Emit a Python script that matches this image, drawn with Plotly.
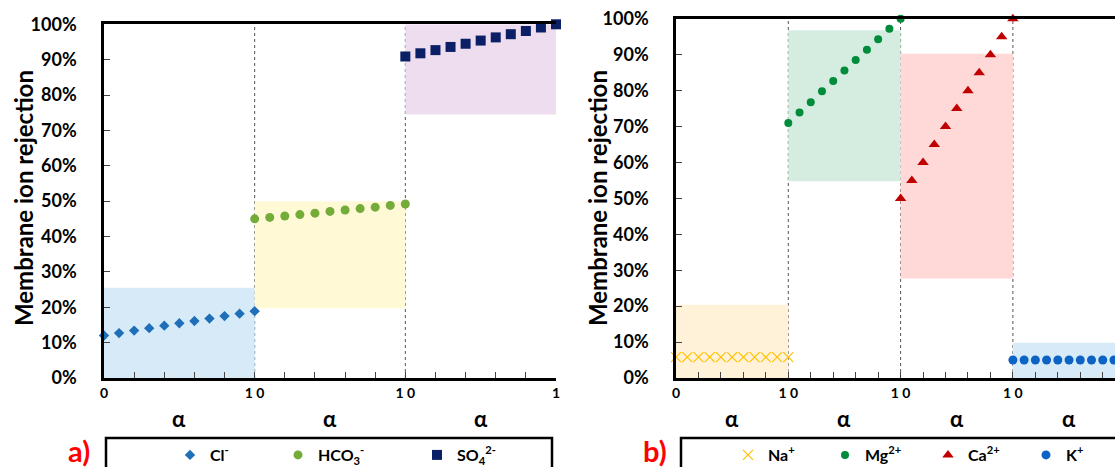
import plotly.graph_objects as go

W, H = 1115, 467

# ---------------- data ----------------
ALPHA = [0.0, 0.1, 0.2, 0.3, 0.4, 0.5, 0.6, 0.7, 0.8, 0.9, 1.0]

CL = [12.0, 12.7, 13.4, 14.1, 14.8, 15.5, 16.1, 16.8, 17.5, 18.2, 18.9]
HCO3 = [45.0, 45.4, 45.8, 46.2, 46.6, 47.1, 47.5, 47.9, 48.3, 48.8, 49.2]
SO4 = [90.9, 91.8, 92.7, 93.6, 94.5, 95.4, 96.3, 97.2, 98.1, 99.1, 100.0]

NA = [5.8, 5.8, 5.8, 5.8, 5.8, 5.8, 5.8, 5.8, 5.8, 5.8, 5.8]
MG = [71.0, 73.9, 76.8, 79.8, 82.7, 85.6, 88.5, 91.4, 94.3, 97.2, 100.0]
CA = [50.0, 55.0, 60.0, 65.0, 70.0, 75.0, 80.0, 85.0, 90.0, 95.0, 100.0]
K = [5.0, 5.0, 5.0, 5.0, 5.0, 5.0, 5.0, 5.0, 5.0, 5.0, 5.0]

# shaded bands (low, high) per ion
BAND_A = [(0.0, 25.5), (19.7, 50.0), (74.5, 100.0)]
BAND_B = [(0.0, 20.4), (54.8, 96.8), (27.7, 90.3), (0.0, 9.8)]

TICK_Y = [0, 10, 20, 30, 40, 50, 60, 70, 80, 90, 100]
TICK_Y_TEXT = ["0%", "10%", "20%", "30%", "40%", "50%", "60%", "70%", "80%", "90%", "100%"]
TICKTEXT_A = ["0", "1\u00a00", "1\u00a00", "1"]
TICKTEXT_B = ["0", "1\u00a00", "1\u00a00", "1\u00a00"]

NAMES_A = ["Cl<sup>-</sup>", "HCO<sub>3</sub><sup>-</sup>", "SO<sub>4</sub><sup>2-</sup>"]
NAMES_B = ["Na<sup>+</sup>", "Mg<sup>2+</sup>", "Ca<sup>2+</sup>", "K<sup>+</sup>"]

# ---------------- styles ----------------
FONT = "Lato"
px = lambda v: v / W
py = lambda v: 1 - v / H

STY_A = [
    dict(symbol="diamond", size=8, color="#1F6FB8"),
    dict(symbol="circle", size=9, color="#74AC3A"),
    dict(symbol="square", size=10, color="#0A1F66"),
]
STY_B = [
    dict(symbol="x-thin", size=10, color="#FFC000", line=dict(width=1.2, color="#FFC000")),
    dict(symbol="circle", size=8, color="#008C3A"),
    dict(symbol="triangle-up", size=10, color="#C00000"),
    dict(symbol="circle", size=9, color="#0B63C4"),
]
BAND_COL_A = ["#D6EAF8", "#FFF9D6", "#EDDDEE"]
BAND_COL_B = ["#FFF2D8", "#D5EDE0", "#FFD8D8", "#D6EAF8"]

fig = go.Figure()

series_a = [CL, HCO3, SO4]
series_b = [NA, MG, CA, K]

legend_x_a = [190, 298, 437]
legend_x_b = [748, 845, 948, 1046]

for i, (ys, name, sty) in enumerate(zip(series_a, NAMES_A, STY_A)):
    fig.add_trace(go.Scatter(
        x=[i + a for a in ALPHA], y=ys, mode="markers", name=name,
        marker=sty, cliponaxis=False, xaxis="x", yaxis="y", showlegend=True,
        legend="legend" if i == 0 else f"legend{i + 1}",
    ))
for i, (ys, name, sty) in enumerate(zip(series_b, NAMES_B, STY_B)):
    fig.add_trace(go.Scatter(
        x=[i + a for a in ALPHA], y=ys, mode="markers", name=name,
        marker=sty, cliponaxis=False, xaxis="x2", yaxis="y2", showlegend=True,
        legend=f"legend{i + 4}",
    ))

shapes = []
for i, ((lo, hi), c) in enumerate(zip(BAND_A, BAND_COL_A)):
    shapes.append(dict(type="rect", xref="x", yref="y", x0=i, x1=i + 1, y0=lo, y1=hi,
                       fillcolor=c, line=dict(width=0), layer="below"))
for i, ((lo, hi), c) in enumerate(zip(BAND_B, BAND_COL_B)):
    shapes.append(dict(type="rect", xref="x2", yref="y2", x0=i, x1=i + 1, y0=lo, y1=hi,
                       fillcolor=c, line=dict(width=0), layer="below"))
for xr, yr, xs in [("x", "y domain", [1, 2]), ("x2", "y2 domain", [1, 2, 3])]:
    for xv in xs:
        shapes.append(dict(type="line", xref=xr, yref=yr, x0=xv, x1=xv, y0=0, y1=1,
                           line=dict(color="#555555", width=1, dash="dot"), layer="below"))
# legend frames
shapes.append(dict(type="rect", xref="paper", yref="paper", x0=px(106), x1=px(552),
                   y0=py(490), y1=py(438), line=dict(color="black", width=2.5)))
shapes.append(dict(type="rect", xref="paper", yref="paper", x0=px(681), x1=px(1140),
                   y0=py(490), y1=py(438), line=dict(color="black", width=2.5)))

annotations = []
ytitle = dict(text="Membrane ion rejection", textangle=-90, showarrow=False,
              font=dict(family=FONT, size=24, color="black", weight="bold"),
              xref="paper", yref="paper", yanchor="middle", xanchor="center")
annotations.append(dict(ytitle, x=px(23), y=py(198)))
annotations.append(dict(ytitle, x=px(597), y=py(198)))
afont = dict(family=FONT, size=22, color="black", weight="bold")
for i in range(3):
    annotations.append(dict(text="α", x=i + 0.5, xref="x", y=py(418), yref="paper",
                            showarrow=False, yanchor="middle", xanchor="center", font=afont))
for i in range(4):
    annotations.append(dict(text="α", x=i + 0.5, xref="x2", y=py(418), yref="paper",
                            showarrow=False, yanchor="middle", xanchor="center", font=afont))
lab_font = dict(family=FONT, size=29, color="#FF0000", weight="bold")
annotations.append(dict(text="a)", x=px(79), y=py(450), xref="paper", yref="paper",
                        showarrow=False, yanchor="middle", xanchor="center", font=lab_font))
annotations.append(dict(text="b)", x=px(655), y=py(450), xref="paper", yref="paper",
                        showarrow=False, yanchor="middle", xanchor="center", font=lab_font))

tickfont_y = dict(family=FONT, size=18, color="black", weight="bold")
tickfont_x = dict(family=FONT, size=14, color="black", weight="bold")


def xax(dom, rng, ttext):
    return dict(domain=dom, range=rng, tickmode="array", tickvals=[0, 1, 2, 3], ticktext=ttext,
                ticks="inside", ticklen=6, tickcolor="#444444", tickwidth=1,
                minor=dict(dtick=0.2, ticks="inside", ticklen=6, tickcolor="#444444", tickwidth=1),
                showline=True, linecolor="black", linewidth=2.5, mirror=True,
                showgrid=False, zeroline=False, tickfont=tickfont_x, fixedrange=True)


def yax(dom, anchor):
    return dict(domain=dom, range=[0, 100], tickmode="array", tickvals=TICK_Y, ticktext=TICK_Y_TEXT,
                ticks="inside", ticklen=6, tickcolor="#444444", tickwidth=1,
                showline=True, linecolor="black", linewidth=2.5,
                showgrid=False, zeroline=False, tickfont=tickfont_y,
                ticklabelstandoff=21, anchor=anchor, fixedrange=True)


layout = dict(
    width=W, height=H, margin=dict(l=0, r=0, t=0, b=0, autoexpand=False),
    paper_bgcolor="white", plot_bgcolor="white", showlegend=True,
    xaxis=xax([px(104), px(556)], [0, 3], TICKTEXT_A) | dict(anchor="y"),
    yaxis=yax([py(378), py(24.3)], "x"),
    xaxis2=xax([px(676), 1.0], [0, 439 / 112.3], TICKTEXT_B) | dict(anchor="y2"),
    yaxis2=yax([py(378), py(18.8)], "x2"),
    shapes=shapes, annotations=annotations,
)

legend_font = dict(family=FONT, size=16, color="black", weight="bold")
all_lx = legend_x_a + legend_x_b
for j, lx in enumerate(all_lx):
    key = "legend" if j == 0 else f"legend{j + 1}"
    layout[key] = dict(x=px(lx - 20), xanchor="left", y=py(455), yanchor="middle",
                       orientation="h", bgcolor="rgba(0,0,0,0)", borderwidth=0,
                       font=legend_font, itemwidth=30, visible=True)

fig.update_layout(**layout)
fig.write_html("out.html")
